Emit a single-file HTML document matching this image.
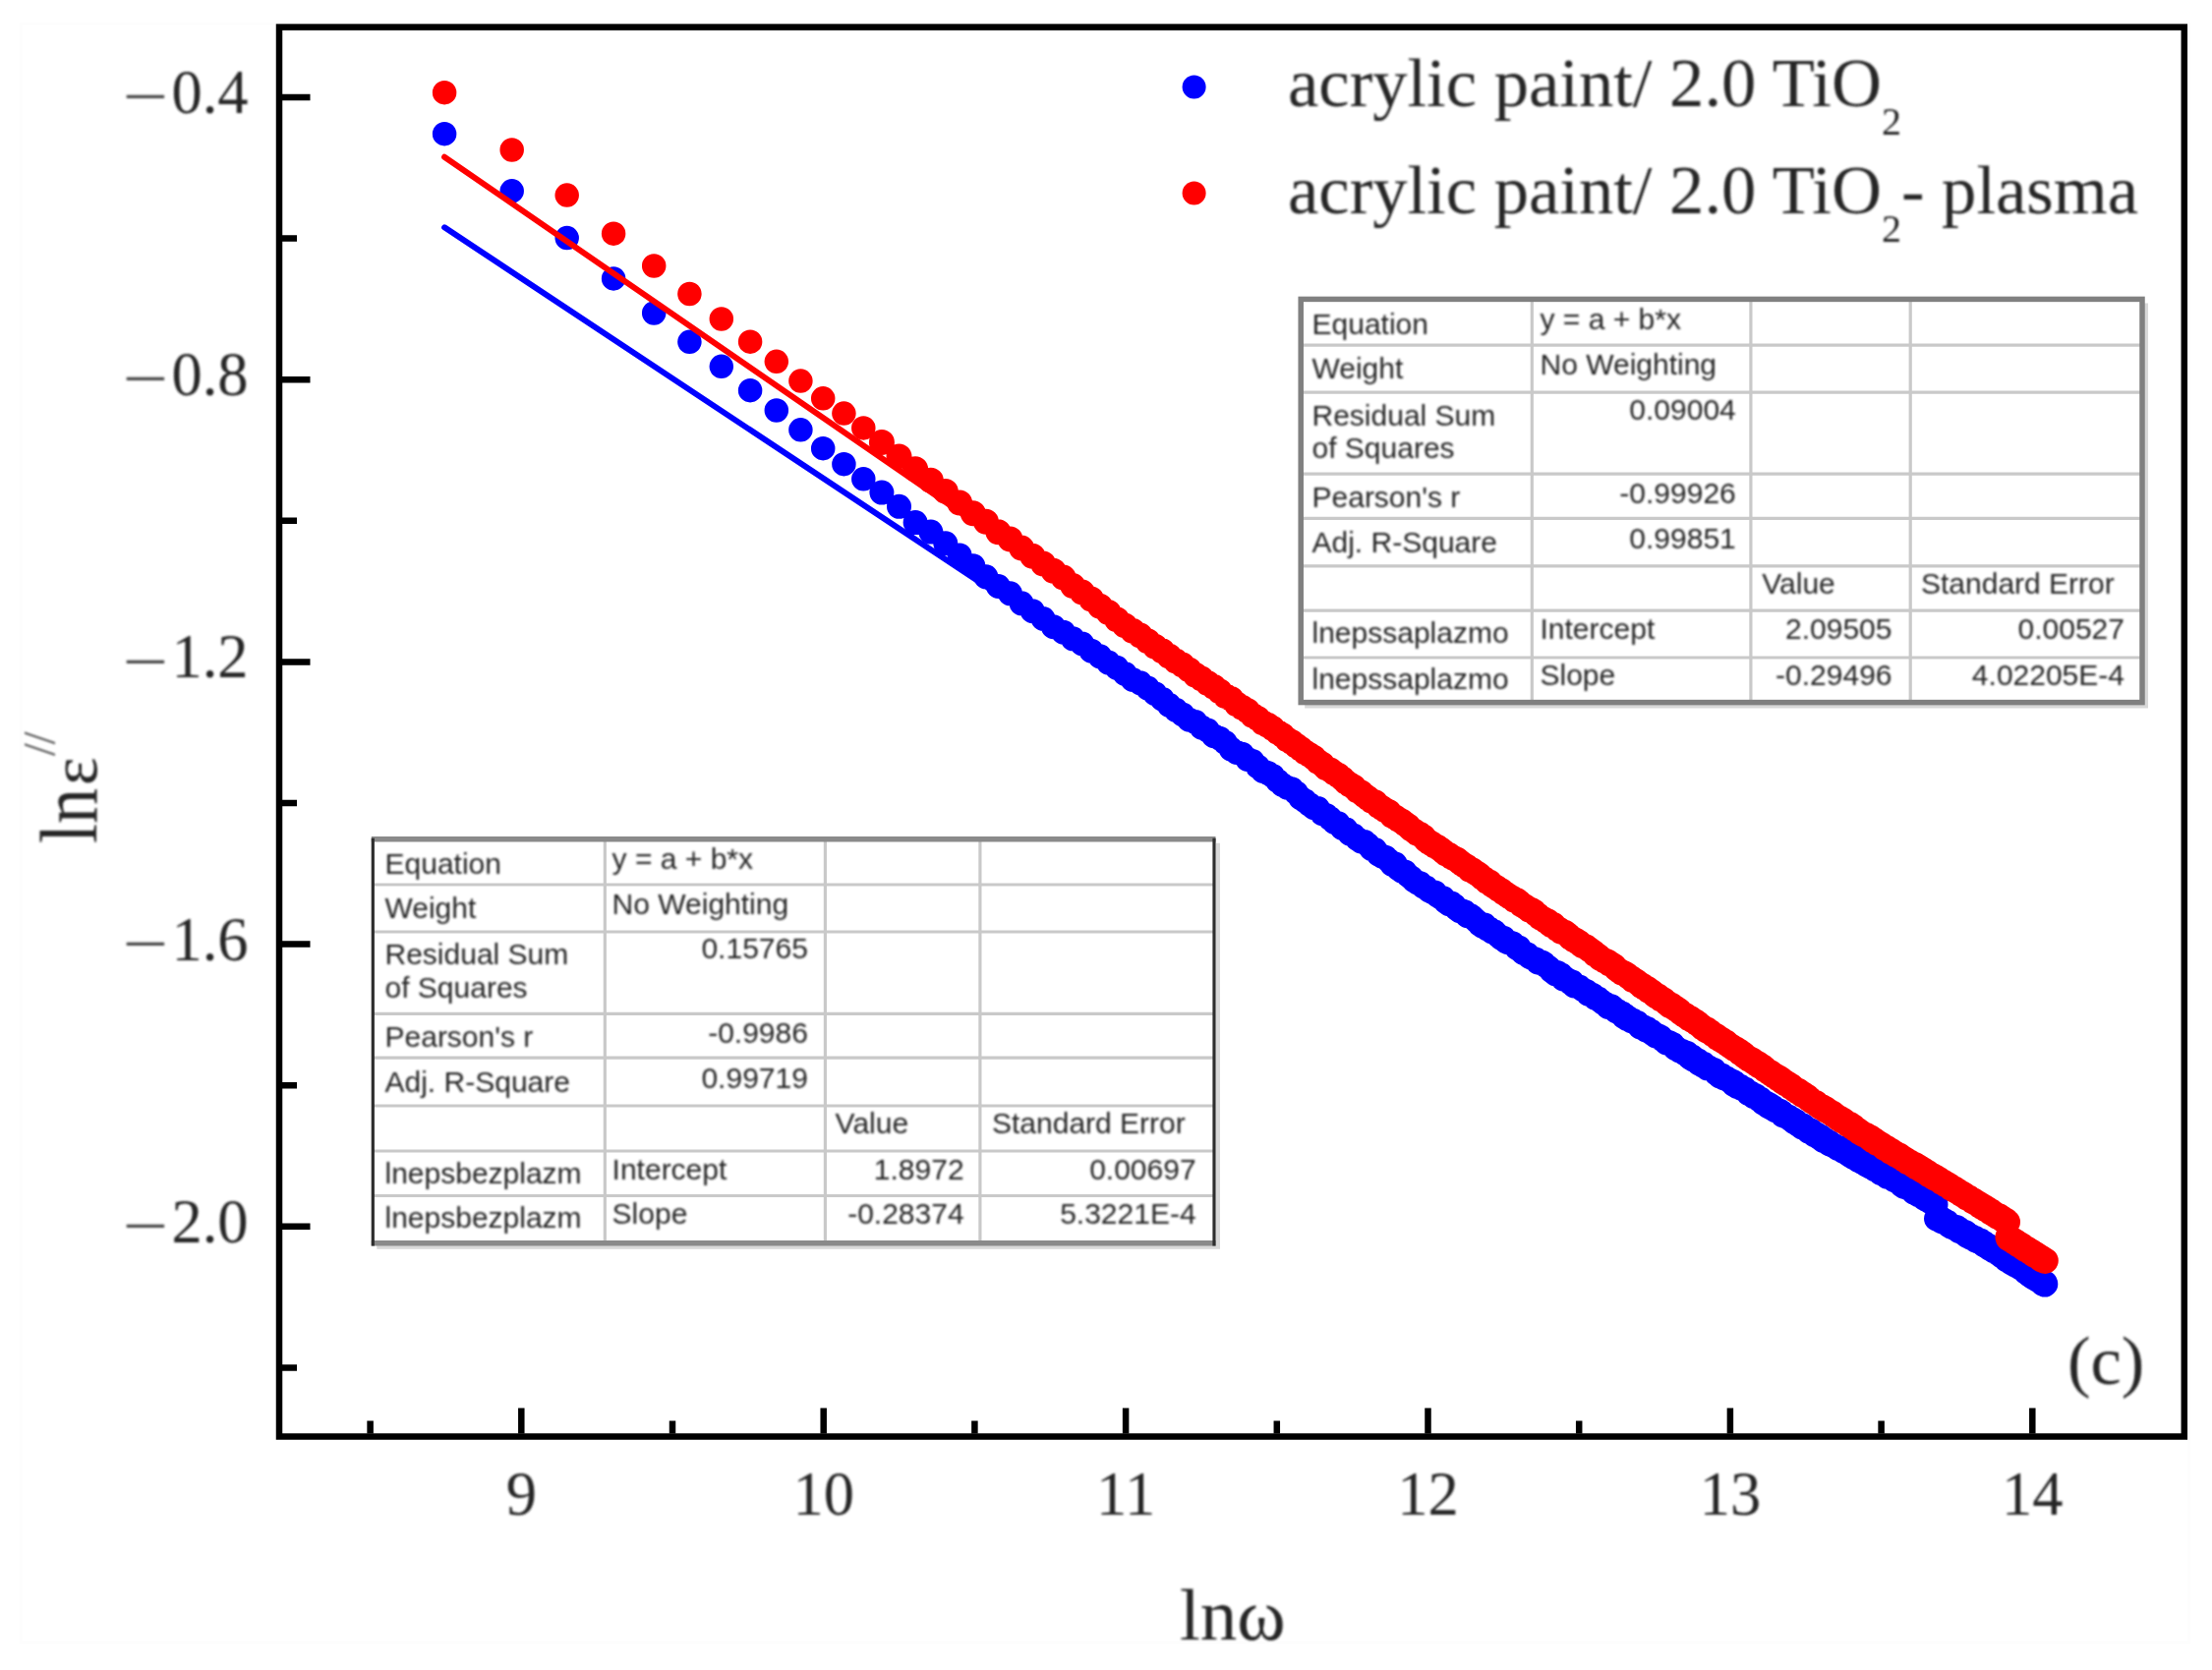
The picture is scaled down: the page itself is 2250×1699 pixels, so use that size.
<!DOCTYPE html>
<html lang="en"><head><meta charset="utf-8"><title>ln eps vs ln omega (c)</title>
<style>
html,body{margin:0;padding:0;background:#fff;}
body{width:2250px;height:1699px;overflow:hidden;}
svg{display:block;}
.se{font-family:"Liberation Serif","DejaVu Serif",serif;fill:#262626;}
.sa{font-family:"Liberation Sans","DejaVu Sans",sans-serif;font-size:30px;fill:#262626;}
.tk{font-size:62.5px;}
.lg{font-size:70.6px;}
</style></head><body>
<svg width="2250" height="1699" viewBox="0 0 2250 1699">
<defs><filter id="soft" x="-2%" y="-2%" width="104%" height="104%"><feGaussianBlur stdDeviation="1.1"/></filter><filter id="soft2" x="-2%" y="-2%" width="104%" height="104%"><feGaussianBlur stdDeviation="0.7"/></filter></defs>
<rect width="2250" height="1699" fill="#fff"/>
<rect x="21.5" y="24" width="2205" height="1647" fill="none" stroke="#fdfdfd" stroke-width="3"/>
<g filter="url(#soft2)" fill="none" stroke-linecap="round">
<path stroke="#0000ff" stroke-width="24.5" d="M452.1 136.2h0M520.7 194.3h0M576.7 242.1h0M624.1 283.4h0M665.2 318.5h0M701.4 347.8h0M733.8 372.8h0M763.1 397.2h0M789.8 417.5h0M814.4 437.3h0M837.2 456.2h0M858.4 472.2h0M878.3 487.3h0"/>
<path stroke="#0000ff" stroke-width="25" d="M896.9 501.1h0M914.5 515.3h0M931.1 531.6h0M946.8 541.1h0M961.8 552.8h0M976.1 564.9h0M989.8 575.7h0M1002.9 586.8h0M1015.4 596.5h0M1027.5 603.8h0M1039.1 613.8h0M1050.3 621.7h0M1061.1 629.5h0M1071.5 637.7h0M1081.6 643.2h0M1091.3 649.8h0M1100.8 655.0h0M1110.0 662.2h0M1118.9 667.8h0M1127.5 674.1h0M1136.0 679.3h0M1144.2 685.4h0M1152.1 691.5h0M1159.9 694.8h0M1167.5 700.1h0M1174.9 705.7h0M1182.2 711.2h0M1189.2 717.3h0M1196.1 722.3h0M1202.9 726.9h0M1209.5 732.2h0M1216.0 734.6h0M1222.3 740.1h0M1228.5 743.1h0M1234.6 748.7h0M1240.6 751.2h0M1246.4 755.6h0M1252.2 762.1h0M1257.8 765.4h0M1263.4 767.2h0M1268.8 772.3h0M1274.1 774.5h0M1279.4 779.9h0M1284.6 784.5h0M1289.6 786.4h0M1294.6 789.4h0M1299.6 794.4h0M1304.4 798.5h0M1309.2 801.2h0M1313.9 802.7h0M1318.5 806.7h0M1323.0 811.9h0M1327.5 814.8h0M1331.9 818.4h0M1336.3 821.7h0M1340.6 822.6h0M1344.8 827.6h0M1349.0 829.4h0M1353.2 832.8h0M1357.2 836.5h0M1361.2 837.8h0M1365.2 842.5h0M1369.1 843.8h0M1373.0 848.2h0M1376.8 850.0h0M1380.6 853.4h0M1384.3 855.9h0M1388.0 856.5h0M1391.6 859.6h0M1395.2 863.7h0M1398.8 864.6h0M1402.3 869.2h0M1405.8 871.1h0M1409.2 872.2h0M1412.6 875.3h0M1416.0 879.4h0M1419.3 879.1h0M1422.6 883.9h0M1425.8 886.1h0M1429.0 886.9h0M1432.2 890.5h0M1435.4 892.9h0M1438.5 895.9h0M1441.6 898.0h0M1444.6 898.8h0M1447.7 902.0h0M1450.7 903.1h0M1453.6 905.9h0M1456.6 907.5h0M1459.5 907.9h0M1462.4 911.2h0M1465.2 912.8h0M1468.1 913.8h0M1470.9 917.7h0M1473.7 919.6h0M1476.4 919.1h0M1479.2 921.2h0M1481.9 924.7h0M1484.6 926.6h0M1487.2 926.7h0M1489.9 927.8h0M1492.5 931.7h0M1495.1 931.2h0M1497.6 933.0h0M1500.2 935.5h0M1502.7 937.7h0M1505.2 940.3h0M1507.7 942.2h0M1510.2 941.0h0M1512.6 944.8h0M1515.1 945.0h0M1517.5 947.9h0M1519.9 947.7h0M1522.2 950.0h0M1524.6 952.4h0M1526.9 954.3h0M1529.3 954.2h0M1531.6 957.6h0M1533.8 958.7h0M1536.1 959.1h0M1538.4 959.7h0M1540.6 961.9h0M1542.8 964.4h0M1545.0 963.9h0M1547.2 967.5h0M1549.4 969.4h0M1551.5 970.1h0M1553.7 971.0h0M1555.8 973.5h0M1557.9 974.5h0M1560.0 975.3h0M1562.1 976.1h0M1564.2 978.8h0M1566.2 979.4h0M1568.3 979.1h0M1570.3 980.2h0M1572.3 982.5h0M1574.3 983.7h0M1576.3 985.3h0M1578.3 987.9h0M1580.3 989.5h0M1582.2 990.9h0M1584.1 989.4h0M1586.1 991.3h0M1588.0 991.8h0M1589.9 995.9h0M1591.8 995.3h0M1593.7 996.9h0M1595.5 997.4h0M1597.4 999.9h0M1599.2 999.0h0M1601.1 1003.0h0M1602.9 1002.8h0M1604.7 1003.4h0M1606.5 1004.1h0M1608.3 1005.7h0M1610.1 1006.9h0M1611.9 1007.7h0M1613.6 1008.4h0M1615.4 1011.2h0M1617.1 1011.3h0M1618.8 1011.7h0M1620.6 1012.8h0M1622.3 1015.2h0M1624.0 1015.2h0M1625.7 1016.0h0M1627.4 1017.9h0M1629.0 1018.8h0M1630.7 1020.5h0M1632.4 1021.0h0M1634.0 1021.9h0M1635.6 1024.5h0M1637.3 1023.8h0M1638.9 1023.8h0M1640.5 1025.1h0M1642.1 1026.5h0M1643.7 1028.6h0M1645.3 1028.5h0M1646.9 1029.9h0M1648.5 1031.3h0M1650.0 1031.1h0M1651.6 1034.3h0M1653.1 1033.3h0M1654.7 1036.4h0M1656.2 1035.6h0M1657.7 1036.9h0M1659.2 1038.6h0M1660.8 1038.1h0M1662.3 1039.7h0M1663.7 1040.2h0M1665.2 1040.2h0M1666.7 1043.2h0M1668.2 1044.8h0M1669.7 1044.8h0M1671.1 1044.6h0M1672.6 1046.9h0M1674.0 1047.9h0M1675.5 1046.6h0M1676.9 1048.2h0M1678.3 1049.8h0M1679.7 1049.3h0M1681.2 1051.8h0M1682.6 1051.7h0M1684.0 1054.0h0M1685.4 1054.1h0M1686.7 1053.8h0M1688.1 1054.4h0M1689.5 1055.3h0M1690.9 1057.7h0M1692.2 1057.9h0M1693.6 1059.5h0M1694.9 1060.9h0M1696.3 1060.7h0M1697.6 1060.5h0M1699.0 1061.3h0M1700.3 1062.5h0M1701.6 1062.6h0M1702.9 1065.4h0M1704.2 1066.6h0M1705.5 1066.5h0M1706.8 1067.8h0M1708.1 1068.8h0M1709.4 1069.0h0M1710.7 1069.2h0M1712.0 1070.4h0M1713.3 1071.7h0M1714.5 1070.9h0M1715.8 1071.2h0M1717.0 1073.6h0M1718.3 1075.5h0M1719.5 1076.4h0M1720.8 1074.7h0M1722.0 1077.9h0M1723.3 1076.7h0M1724.5 1077.8h0M1725.7 1079.4h0M1726.9 1078.7h0M1728.1 1081.8h0M1729.3 1082.2h0M1730.5 1081.9h0M1731.7 1084.0h0M1732.9 1082.3h0M1734.1 1084.8h0M1735.3 1085.8h0M1736.5 1086.8h0M1737.7 1085.8h0M1738.8 1087.1h0M1740.0 1087.2h0M1741.2 1087.9h0M1742.3 1088.1h0M1743.5 1088.4h0M1744.6 1089.9h0M1745.8 1092.1h0M1746.9 1092.0h0M1748.1 1093.6h0M1749.2 1094.8h0M1750.3 1094.1h0M1751.4 1094.0h0M1752.6 1096.3h0M1753.7 1096.8h0M1754.8 1097.2h0M1755.9 1096.8h0M1757.0 1098.1h0M1758.1 1098.4h0M1759.2 1098.7h0M1760.3 1100.5h0M1761.4 1099.9h0M1762.5 1100.3h0M1763.5 1103.4h0M1764.6 1101.6h0M1765.7 1102.9h0M1766.8 1105.3h0M1767.8 1105.0h0M1768.9 1105.2h0M1769.9 1105.0h0M1771.0 1107.2h0M1772.0 1107.3h0M1773.1 1107.0h0M1774.1 1107.9h0M1775.2 1108.1h0M1776.2 1110.2h0M1777.2 1110.3h0M1778.3 1112.3h0M1779.3 1111.4h0M1780.3 1111.8h0M1781.3 1112.9h0M1782.4 1113.3h0M1783.4 1115.5h0M1784.4 1114.0h0M1785.4 1114.4h0M1786.4 1115.1h0M1787.4 1117.0h0M1788.4 1116.9h0M1789.4 1118.9h0M1790.4 1117.8h0M1791.4 1118.6h0M1792.3 1120.7h0M1793.3 1122.1h0M1794.3 1121.7h0M1795.3 1121.9h0M1796.2 1121.9h0M1797.2 1123.3h0M1798.2 1125.3h0M1799.1 1123.6h0M1800.1 1126.4h0M1801.1 1124.8h0M1802.0 1127.3h0M1803.0 1127.4h0M1803.9 1126.6h0M1804.9 1129.2h0M1805.8 1129.7h0M1806.7 1129.2h0M1807.7 1129.2h0M1808.6 1129.4h0M1809.5 1130.5h0M1810.5 1130.3h0M1811.4 1132.2h0M1812.3 1131.4h0M1813.2 1134.6h0M1814.1 1134.8h0M1815.1 1134.4h0M1816.0 1135.7h0M1816.9 1134.9h0M1817.8 1135.8h0M1818.7 1136.7h0M1819.6 1136.3h0M1820.5 1137.7h0M1821.4 1139.0h0M1822.3 1139.4h0M1823.2 1138.5h0M1824.0 1138.9h0M1824.9 1141.6h0M1825.8 1140.2h0M1826.7 1140.4h0M1827.6 1142.3h0M1828.4 1142.7h0M1829.3 1144.3h0M1830.2 1143.9h0M1831.0 1144.5h0M1831.9 1144.7h0M1832.8 1147.0h0M1833.6 1144.7h0M1834.5 1146.6h0M1835.3 1147.5h0M1836.2 1146.8h0M1837.1 1148.1h0M1837.9 1148.8h0M1838.7 1148.8h0M1839.6 1151.2h0M1840.4 1150.3h0M1841.3 1151.2h0M1842.1 1150.1h0M1842.9 1150.7h0M1843.8 1153.2h0M1844.6 1153.1h0M1845.4 1154.7h0M1846.3 1154.2h0M1847.1 1153.6h0M1847.9 1153.9h0M1848.7 1155.7h0M1849.5 1156.7h0M1850.3 1157.5h0M1851.2 1156.8h0M1852.0 1156.3h0M1852.8 1159.2h0M1853.6 1157.7h0M1854.4 1160.4h0M1855.2 1160.4h0M1856.0 1160.7h0M1856.8 1159.8h0M1857.6 1161.3h0M1858.4 1161.7h0M1859.2 1161.3h0M1860.0 1163.3h0M1860.7 1161.9h0M1861.5 1164.1h0M1862.3 1163.4h0M1863.1 1164.6h0M1863.9 1165.2h0M1864.6 1164.7h0M1865.4 1165.4h0M1866.2 1166.0h0M1867.0 1166.3h0M1867.7 1166.4h0M1868.5 1168.0h0M1869.3 1168.3h0M1870.0 1167.4h0M1870.8 1167.8h0M1871.6 1168.6h0M1872.3 1168.0h0M1873.1 1169.2h0M1873.8 1168.8h0M1874.6 1171.2h0M1875.3 1170.0h0M1876.1 1170.3h0M1876.8 1170.4h0M1877.6 1172.6h0M1878.3 1173.0h0M1879.1 1171.6h0M1879.8 1174.1h0M1880.5 1172.2h0M1881.3 1172.9h0M1882.0 1175.6h0M1882.7 1175.7h0M1883.5 1174.7h0M1884.2 1176.5h0M1884.9 1177.4h0M1885.6 1175.6h0M1886.4 1177.2h0M1887.1 1176.5h0M1887.8 1178.9h0M1888.5 1178.5h0M1889.3 1178.0h0M1890.0 1180.5h0M1890.7 1180.3h0M1891.4 1179.3h0M1892.1 1179.0h0M1892.8 1179.2h0M1893.5 1182.2h0M1894.2 1181.4h0M1894.9 1181.0h0M1895.6 1182.2h0M1896.3 1182.0h0M1897.0 1183.9h0M1897.7 1184.7h0M1898.4 1184.9h0M1899.1 1185.5h0M1899.8 1184.4h0M1900.5 1184.9h0M1901.2 1185.1h0M1901.9 1186.8h0M1902.6 1187.0h0M1903.3 1187.4h0M1903.9 1185.8h0M1904.6 1185.8h0M1905.3 1186.3h0M1906.0 1189.2h0M1906.7 1189.7h0M1907.3 1187.4h0M1908.0 1189.3h0M1908.7 1188.7h0M1909.4 1190.4h0M1910.0 1190.4h0M1910.7 1190.6h0M1911.4 1191.2h0M1912.0 1191.1h0M1912.7 1193.3h0M1913.4 1191.6h0M1914.0 1191.5h0M1914.7 1193.9h0M1915.3 1193.5h0M1916.0 1193.0h0M1916.7 1194.4h0M1917.3 1195.4h0M1918.0 1195.9h0M1918.6 1195.2h0M1919.3 1197.1h0M1919.9 1194.8h0M1920.6 1195.5h0M1921.2 1196.1h0M1921.9 1196.0h0M1922.5 1197.1h0M1923.1 1198.2h0M1923.8 1198.0h0M1924.4 1198.6h0M1925.1 1197.6h0M1925.7 1198.5h0M1926.3 1200.5h0M1927.0 1198.9h0M1927.6 1199.8h0M1928.2 1200.0h0M1928.9 1200.3h0M1929.5 1201.9h0M1930.1 1200.8h0M1930.7 1201.2h0M1931.4 1202.1h0M1932.0 1202.3h0M1932.6 1202.6h0M1933.2 1204.1h0M1933.9 1203.5h0M1934.5 1205.8h0M1935.1 1205.4h0M1935.7 1205.4h0M1936.3 1207.1h0M1936.9 1206.4h0M1937.6 1205.9h0M1938.2 1206.3h0M1938.8 1207.9h0M1939.4 1206.1h0M1940.0 1207.3h0M1940.6 1208.6h0M1941.2 1208.0h0M1941.8 1208.6h0M1942.4 1209.1h0M1943.0 1209.9h0M1943.6 1208.4h0M1944.2 1209.8h0M1944.8 1210.0h0M1945.4 1210.2h0M1946.0 1209.9h0M1946.6 1213.1h0M1947.2 1211.7h0M1947.8 1211.6h0M1948.4 1213.4h0M1949.0 1213.3h0M1949.6 1214.7h0M1950.2 1214.7h0M1950.7 1214.5h0M1951.3 1215.6h0M1951.9 1215.5h0M1952.5 1213.9h0M1953.1 1215.3h0M1953.7 1215.8h0M1954.2 1214.7h0M1954.8 1216.3h0M1955.4 1215.3h0M1956.0 1216.7h0M1956.6 1216.6h0M1957.1 1219.1h0M1957.7 1217.9h0M1958.3 1217.7h0M1958.8 1220.2h0M1959.4 1217.9h0M1960.0 1220.5h0M1960.6 1219.9h0M1961.1 1221.2h0M1961.7 1220.5h0M1962.3 1220.5h0M1962.8 1222.5h0M1963.4 1220.1h0M1963.9 1222.1h0M1964.5 1222.1h0M1965.1 1222.2h0M1965.6 1223.2h0M1966.2 1223.8h0M1966.7 1223.0h0M1967.3 1223.6h0M1967.9 1224.8h0M1968.4 1223.8h0M1969.0 1225.4h0M1969.5 1239.8h0M1970.1 1239.4h0M1970.6 1240.4h0M1971.2 1240.3h0M1971.7 1238.8h0M1972.3 1240.2h0M1972.8 1239.0h0M1973.4 1239.8h0M1973.9 1242.2h0M1974.4 1239.6h0M1975.0 1240.1h0M1975.5 1243.0h0M1976.1 1240.8h0M1976.6 1242.5h0M1977.1 1242.7h0M1977.7 1241.5h0M1978.2 1244.0h0M1978.8 1243.5h0M1979.3 1242.5h0M1979.8 1243.5h0M1980.4 1244.5h0M1980.9 1243.3h0M1981.4 1244.1h0M1982.0 1245.0h0M1982.5 1246.8h0M1983.0 1245.5h0M1983.5 1246.3h0M1984.1 1247.4h0M1984.6 1248.1h0M1985.1 1247.0h0M1985.6 1248.5h0M1986.2 1247.8h0M1986.7 1247.5h0M1987.2 1248.4h0M1987.7 1249.3h0M1988.3 1248.6h0M1988.8 1249.4h0M1989.3 1248.6h0M1989.8 1249.6h0M1990.3 1248.5h0M1990.8 1248.9h0M1991.4 1249.9h0M1991.9 1251.7h0M1992.4 1252.3h0M1992.9 1250.3h0M1993.4 1250.9h0M1993.9 1251.6h0M1994.4 1252.7h0M1994.9 1253.3h0M1995.4 1252.3h0M1995.9 1252.9h0M1996.4 1253.1h0M1997.0 1253.3h0M1997.5 1253.2h0M1998.0 1255.2h0M1998.5 1255.3h0M1999.0 1253.4h0M1999.5 1253.9h0M2000.0 1254.2h0M2000.5 1257.1h0M2001.0 1257.3h0M2001.5 1256.9h0M2002.0 1256.7h0M2002.5 1256.4h0M2003.0 1258.3h0M2003.4 1257.2h0M2003.9 1258.9h0M2004.4 1259.1h0M2004.9 1257.6h0M2005.4 1258.3h0M2005.9 1258.3h0M2006.4 1259.4h0M2006.9 1259.3h0M2007.4 1260.4h0M2007.9 1260.3h0M2008.3 1259.3h0M2008.8 1259.3h0M2009.3 1261.9h0M2009.8 1262.0h0M2010.3 1260.2h0M2010.8 1261.1h0M2011.3 1260.9h0M2011.7 1262.8h0M2012.2 1262.5h0M2012.7 1263.2h0M2013.2 1261.8h0M2013.7 1263.4h0M2014.1 1262.8h0M2014.6 1262.1h0M2015.1 1264.4h0M2015.6 1264.0h0M2016.0 1263.6h0M2016.5 1263.4h0M2017.0 1265.1h0M2017.5 1265.6h0M2017.9 1266.6h0M2018.4 1264.6h0M2018.9 1267.2h0M2019.3 1267.5h0M2019.8 1266.3h0M2020.3 1266.8h0M2020.7 1266.4h0M2021.2 1267.9h0M2021.7 1266.7h0M2022.1 1269.2h0M2022.6 1269.1h0M2023.1 1268.0h0M2023.5 1270.1h0M2024.0 1269.7h0M2024.5 1268.8h0M2024.9 1269.2h0M2025.4 1270.7h0M2025.8 1271.4h0M2026.3 1271.1h0M2026.8 1270.3h0M2027.2 1271.7h0M2027.7 1272.7h0M2028.1 1271.2h0M2028.6 1272.0h0M2029.0 1271.2h0M2029.5 1271.5h0M2029.9 1271.8h0M2030.4 1273.6h0M2030.9 1272.8h0M2031.3 1274.6h0M2031.8 1274.8h0M2032.2 1274.9h0M2032.7 1273.6h0M2033.1 1274.0h0M2033.6 1276.2h0M2034.0 1276.2h0M2034.4 1276.5h0M2034.9 1276.8h0M2035.3 1277.0h0M2035.8 1277.3h0M2036.2 1278.2h0M2036.7 1277.4h0M2037.1 1277.0h0M2037.6 1278.0h0M2038.0 1277.4h0M2038.4 1278.5h0M2038.9 1280.0h0M2039.3 1278.5h0M2039.8 1278.5h0M2040.2 1280.6h0M2040.6 1281.6h0M2041.1 1280.4h0M2041.5 1280.6h0M2042.0 1280.9h0M2042.4 1279.9h0M2042.8 1281.2h0M2043.3 1281.0h0M2043.7 1283.5h0M2044.1 1282.4h0M2044.6 1281.9h0M2045.0 1284.3h0M2045.4 1284.6h0M2045.8 1282.9h0M2046.3 1282.7h0M2046.7 1285.5h0M2047.1 1284.1h0M2047.6 1285.9h0M2048.0 1284.3h0M2048.4 1284.9h0M2048.8 1286.4h0M2049.3 1286.8h0M2049.7 1285.4h0M2050.1 1286.4h0M2050.5 1286.0h0M2051.0 1287.4h0M2051.4 1287.8h0M2051.8 1286.2h0M2052.2 1287.4h0M2052.7 1288.2h0M2053.1 1288.4h0M2053.5 1288.1h0M2053.9 1288.4h0M2054.3 1288.1h0M2054.8 1289.9h0M2055.2 1288.9h0M2055.6 1289.6h0M2056.0 1289.4h0M2056.4 1289.8h0M2056.8 1290.0h0M2057.3 1290.1h0M2057.7 1290.1h0M2058.1 1291.4h0M2058.5 1292.0h0M2058.9 1291.7h0M2059.3 1291.7h0M2059.7 1293.1h0M2060.2 1293.4h0M2060.6 1294.5h0M2061.0 1293.0h0M2061.4 1292.5h0M2061.8 1294.6h0M2062.2 1295.5h0M2062.6 1295.7h0M2063.0 1295.3h0M2063.4 1296.0h0M2063.8 1294.2h0M2064.2 1297.2h0M2064.6 1296.7h0M2065.0 1297.6h0M2065.4 1296.2h0M2065.9 1296.1h0M2066.3 1298.2h0M2066.7 1298.8h0M2067.1 1297.9h0M2067.5 1297.8h0M2067.9 1297.1h0M2068.3 1300.0h0M2068.7 1300.0h0M2069.1 1300.0h0M2069.5 1300.2h0M2069.9 1300.4h0M2070.3 1299.2h0M2070.7 1299.9h0M2071.1 1301.3h0M2071.4 1301.6h0M2071.8 1301.6h0M2072.2 1302.2h0M2072.6 1300.7h0M2073.0 1302.3h0M2073.4 1301.8h0M2073.8 1301.3h0M2074.2 1302.6h0M2074.6 1303.5h0M2075.0 1301.9h0M2075.4 1302.1h0M2075.8 1304.0h0M2076.2 1303.7h0M2076.6 1302.7h0M2076.9 1304.4h0M2077.3 1305.4h0M2077.7 1306.2h0M2078.1 1303.8h0M2078.5 1304.5h0M2078.9 1306.0h0M2079.3 1305.8h0M2079.7 1306.1h0M2080.0 1307.1h0M2080.4 1305.2h0M2080.8 1306.4h0"/>
<line x1="452.1" y1="231.3" x2="2080.8" y2="1310.7" stroke="#0000ff" stroke-width="6"/>
<path stroke="#ff0000" stroke-width="24.5" d="M452.1 94.2h0M520.7 152.5h0M576.7 198.6h0M624.1 237.7h0M665.2 270.5h0M701.4 299.0h0M733.8 324.5h0M763.1 347.7h0M789.8 367.8h0M814.4 387.6h0M837.2 405.3h0M858.4 420.6h0M878.3 435.4h0"/>
<path stroke="#ff0000" stroke-width="26" d="M896.9 450.0h0M914.5 464.4h0M931.1 477.3h0M946.8 488.8h0M961.8 499.9h0M976.1 511.5h0M989.8 522.3h0M1002.9 530.8h0M1015.4 541.2h0M1027.5 548.5h0M1039.1 557.6h0M1050.3 565.8h0M1061.1 573.5h0M1071.5 580.8h0M1081.6 587.6h0M1091.3 596.1h0M1100.8 602.6h0M1110.0 609.5h0M1118.9 616.7h0M1127.5 623.0h0M1136.0 630.2h0M1144.2 636.4h0M1152.1 641.8h0M1159.9 646.6h0M1167.5 652.3h0M1174.9 657.7h0M1182.2 662.3h0M1189.2 667.5h0M1196.1 672.6h0M1202.9 676.6h0M1209.5 681.4h0M1216.0 686.7h0M1222.3 690.6h0M1228.5 695.0h0M1234.6 698.8h0M1240.6 703.2h0M1246.4 708.0h0M1252.2 710.9h0M1257.8 716.3h0M1263.4 719.7h0M1268.8 723.0h0M1274.1 727.7h0M1279.4 730.9h0M1284.6 735.2h0M1289.6 737.8h0M1294.6 741.1h0M1299.6 744.9h0M1304.4 747.9h0M1309.2 752.3h0M1313.9 755.0h0M1318.5 758.5h0M1323.0 761.8h0M1327.5 765.3h0M1331.9 767.9h0M1336.3 770.8h0M1340.6 774.7h0M1344.8 777.4h0M1349.0 781.4h0M1353.2 783.4h0M1357.2 786.4h0M1361.2 788.8h0M1365.2 791.9h0M1369.1 795.6h0M1373.0 798.2h0M1376.8 800.5h0M1380.6 804.2h0M1384.3 806.2h0M1388.0 809.4h0M1391.6 812.1h0M1395.2 814.8h0M1398.8 816.2h0M1402.3 819.7h0M1405.8 822.1h0M1409.2 824.3h0M1412.6 826.0h0M1416.0 829.7h0M1419.3 831.5h0M1422.6 833.7h0M1425.8 835.5h0M1429.0 838.0h0M1432.2 840.2h0M1435.4 843.4h0M1438.5 845.4h0M1441.6 847.7h0M1444.6 849.1h0M1447.7 851.2h0M1450.7 854.6h0M1453.6 856.7h0M1456.6 858.6h0M1459.5 860.5h0M1462.4 862.1h0M1465.2 863.9h0M1468.1 866.3h0M1470.9 868.6h0M1473.7 869.8h0M1476.4 871.8h0M1479.2 873.3h0M1481.9 874.5h0M1484.6 876.8h0M1487.2 878.8h0M1489.9 880.5h0M1492.5 882.1h0M1495.1 884.9h0M1497.6 885.3h0M1500.2 887.2h0M1502.7 888.8h0M1505.2 890.6h0M1507.7 892.9h0M1510.2 894.6h0M1512.6 896.7h0M1515.1 897.5h0M1517.5 900.0h0M1519.9 901.6h0M1522.2 903.0h0M1524.6 904.7h0M1526.9 906.0h0M1529.3 908.0h0M1531.6 909.6h0M1533.8 911.0h0M1536.1 912.6h0M1538.4 913.7h0M1540.6 915.7h0M1542.8 915.9h0M1545.0 917.8h0M1547.2 920.0h0M1549.4 921.3h0M1551.5 922.6h0M1553.7 924.0h0M1555.8 925.9h0M1557.9 926.1h0M1560.0 927.3h0M1562.1 929.6h0M1564.2 930.9h0M1566.2 933.0h0M1568.3 934.3h0M1570.3 935.3h0M1572.3 936.8h0M1574.3 937.3h0M1576.3 939.7h0M1578.3 941.2h0M1580.3 941.1h0M1582.2 943.1h0M1584.1 945.0h0M1586.1 945.7h0M1588.0 947.8h0M1589.9 948.3h0M1591.8 948.8h0M1593.7 950.3h0M1595.5 951.8h0M1597.4 953.8h0M1599.2 954.8h0M1601.1 956.4h0M1602.9 956.7h0M1604.7 958.3h0M1606.5 959.1h0M1608.3 961.0h0M1610.1 962.4h0M1611.9 962.7h0M1613.6 963.6h0M1615.4 965.0h0M1617.1 966.3h0M1618.8 967.4h0M1620.6 968.7h0M1622.3 970.7h0M1624.0 971.4h0M1625.7 972.8h0M1627.4 974.5h0M1629.0 975.6h0M1630.7 976.4h0M1632.4 977.5h0M1634.0 978.0h0M1635.6 978.7h0M1637.3 980.6h0M1638.9 980.9h0M1640.5 981.9h0M1642.1 983.1h0M1643.7 985.1h0M1645.3 986.4h0M1646.9 987.5h0M1648.5 988.6h0M1650.0 989.7h0M1651.6 990.0h0M1653.1 990.7h0M1654.7 991.8h0M1656.2 993.4h0M1657.7 994.2h0M1659.2 995.0h0M1660.8 997.1h0M1662.3 997.3h0M1663.7 997.9h0M1665.2 999.1h0M1666.7 1000.2h0M1668.2 1001.6h0M1669.7 1003.1h0M1671.1 1003.1h0M1672.6 1004.8h0M1674.0 1005.1h0M1675.5 1005.8h0M1676.9 1007.7h0M1678.3 1008.6h0M1679.7 1008.7h0M1681.2 1010.0h0M1682.6 1011.9h0M1684.0 1012.9h0M1685.4 1013.8h0M1686.7 1013.6h0M1688.1 1014.7h0M1689.5 1016.6h0M1690.9 1016.5h0M1692.2 1017.2h0M1693.6 1018.6h0M1694.9 1020.0h0M1696.3 1020.6h0M1697.6 1022.2h0M1699.0 1023.3h0M1700.3 1022.7h0M1701.6 1024.1h0M1702.9 1025.2h0M1704.2 1025.4h0M1705.5 1027.1h0M1706.8 1027.3h0M1708.1 1028.2h0M1709.4 1030.1h0M1710.7 1030.9h0M1712.0 1031.7h0M1713.3 1032.7h0M1714.5 1033.0h0M1715.8 1034.4h0M1717.0 1035.0h0M1718.3 1036.3h0M1719.5 1035.9h0M1720.8 1037.6h0M1722.0 1038.3h0M1723.3 1038.9h0M1724.5 1039.3h0M1725.7 1040.9h0M1726.9 1040.9h0M1728.1 1042.4h0M1729.3 1043.2h0M1730.5 1044.0h0M1731.7 1045.6h0M1732.9 1045.7h0M1734.1 1047.0h0M1735.3 1048.1h0M1736.5 1047.6h0M1737.7 1049.4h0M1738.8 1049.7h0M1740.0 1050.1h0M1741.2 1051.2h0M1742.3 1052.3h0M1743.5 1052.8h0M1744.6 1053.5h0M1745.8 1053.9h0M1746.9 1055.8h0M1748.1 1055.8h0M1749.2 1057.1h0M1750.3 1057.8h0M1751.4 1057.8h0M1752.6 1059.0h0M1753.7 1059.7h0M1754.8 1060.1h0M1755.9 1060.6h0M1757.0 1062.1h0M1758.1 1062.6h0M1759.2 1063.5h0M1760.3 1064.3h0M1761.4 1064.7h0M1762.5 1065.8h0M1763.5 1066.4h0M1764.6 1067.2h0M1765.7 1067.2h0M1766.8 1068.3h0M1767.8 1068.7h0M1768.9 1069.3h0M1769.9 1071.1h0M1771.0 1071.3h0M1772.0 1071.4h0M1773.1 1072.3h0M1774.1 1074.1h0M1775.2 1074.8h0M1776.2 1075.0h0M1777.2 1076.3h0M1778.3 1076.7h0M1779.3 1077.7h0M1780.3 1077.4h0M1781.3 1077.9h0M1782.4 1078.4h0M1783.4 1080.3h0M1784.4 1080.0h0M1785.4 1080.8h0M1786.4 1082.3h0M1787.4 1081.8h0M1788.4 1082.3h0M1789.4 1084.2h0M1790.4 1083.7h0M1791.4 1085.2h0M1792.3 1085.7h0M1793.3 1085.6h0M1794.3 1086.5h0M1795.3 1088.2h0M1796.2 1088.4h0M1797.2 1088.9h0M1798.2 1089.9h0M1799.1 1090.7h0M1800.1 1091.2h0M1801.1 1091.2h0M1802.0 1092.9h0M1803.0 1092.7h0M1803.9 1093.5h0M1804.9 1094.8h0M1805.8 1095.0h0M1806.7 1095.1h0M1807.7 1095.9h0M1808.6 1097.3h0M1809.5 1096.4h0M1810.5 1097.4h0M1811.4 1097.7h0M1812.3 1099.7h0M1813.2 1100.0h0M1814.1 1101.0h0M1815.1 1100.5h0M1816.0 1101.9h0M1816.9 1102.7h0M1817.8 1102.8h0M1818.7 1102.7h0M1819.6 1103.4h0M1820.5 1104.9h0M1821.4 1105.7h0M1822.3 1105.1h0M1823.2 1106.2h0M1824.0 1106.6h0M1824.9 1108.1h0M1825.8 1108.8h0M1826.7 1108.4h0M1827.6 1109.4h0M1828.4 1110.5h0M1829.3 1109.7h0M1830.2 1110.8h0M1831.0 1111.1h0M1831.9 1112.8h0M1832.8 1112.2h0M1833.6 1114.0h0M1834.5 1113.3h0M1835.3 1114.5h0M1836.2 1115.3h0M1837.1 1115.5h0M1837.9 1115.5h0M1838.7 1117.1h0M1839.6 1117.9h0M1840.4 1117.8h0M1841.3 1118.8h0M1842.1 1119.6h0M1842.9 1120.1h0M1843.8 1120.8h0M1844.6 1121.1h0M1845.4 1121.5h0M1846.3 1122.1h0M1847.1 1121.9h0M1847.9 1123.2h0M1848.7 1123.4h0M1849.5 1124.5h0M1850.3 1124.7h0M1851.2 1125.8h0M1852.0 1126.0h0M1852.8 1126.9h0M1853.6 1126.3h0M1854.4 1127.1h0M1855.2 1128.1h0M1856.0 1128.2h0M1856.8 1128.0h0M1857.6 1129.8h0M1858.4 1129.2h0M1859.2 1130.3h0M1860.0 1130.7h0M1860.7 1130.7h0M1861.5 1131.9h0M1862.3 1132.2h0M1863.1 1132.4h0M1863.9 1132.5h0M1864.6 1134.0h0M1865.4 1133.7h0M1866.2 1134.4h0M1867.0 1135.0h0M1867.7 1135.9h0M1868.5 1136.4h0M1869.3 1137.4h0M1870.0 1137.8h0M1870.8 1138.4h0M1871.6 1137.8h0M1872.3 1139.0h0M1873.1 1139.7h0M1873.8 1140.3h0M1874.6 1139.6h0M1875.3 1140.0h0M1876.1 1140.8h0M1876.8 1141.9h0M1877.6 1142.4h0M1878.3 1142.8h0M1879.1 1143.0h0M1879.8 1144.0h0M1880.5 1144.0h0M1881.3 1144.8h0M1882.0 1144.1h0M1882.7 1144.6h0M1883.5 1145.7h0M1884.2 1146.7h0M1884.9 1146.0h0M1885.6 1147.5h0M1886.4 1147.9h0M1887.1 1148.9h0M1887.8 1148.8h0M1888.5 1149.1h0M1889.3 1149.5h0M1890.0 1150.5h0M1890.7 1150.4h0M1891.4 1151.7h0M1892.1 1151.7h0M1892.8 1152.5h0M1893.5 1152.4h0M1894.2 1153.4h0M1894.9 1153.9h0M1895.6 1153.9h0M1896.3 1154.5h0M1897.0 1154.4h0M1897.7 1154.9h0M1898.4 1155.0h0M1899.1 1155.6h0M1899.8 1156.0h0M1900.5 1156.2h0M1901.2 1157.4h0M1901.9 1157.9h0M1902.6 1157.3h0M1903.3 1159.1h0M1903.9 1158.6h0M1904.6 1159.2h0M1905.3 1160.6h0M1906.0 1159.7h0M1906.7 1160.1h0M1907.3 1160.9h0M1908.0 1161.2h0M1908.7 1161.5h0M1909.4 1163.0h0M1910.0 1162.8h0M1910.7 1163.3h0M1911.4 1163.2h0M1912.0 1163.7h0M1912.7 1164.1h0M1913.4 1164.9h0M1914.0 1164.8h0M1914.7 1165.5h0M1915.3 1165.9h0M1916.0 1167.0h0M1916.7 1167.7h0M1917.3 1168.0h0M1918.0 1168.0h0M1918.6 1168.8h0M1919.3 1168.0h0M1919.9 1168.9h0M1920.6 1169.2h0M1921.2 1169.5h0M1921.9 1169.8h0M1922.5 1170.5h0M1923.1 1171.7h0M1923.8 1170.8h0M1924.4 1171.3h0M1925.1 1172.1h0M1925.7 1172.4h0M1926.3 1172.6h0M1927.0 1173.9h0M1927.6 1173.2h0M1928.2 1174.4h0M1928.9 1175.0h0M1929.5 1175.1h0M1930.1 1174.7h0M1930.7 1175.9h0M1931.4 1175.5h0M1932.0 1175.5h0M1932.6 1176.6h0M1933.2 1177.2h0M1933.9 1177.4h0M1934.5 1177.4h0M1935.1 1177.7h0M1935.7 1178.3h0M1936.3 1178.6h0M1936.9 1179.9h0M1937.6 1180.1h0M1938.2 1180.3h0M1938.8 1179.9h0M1939.4 1181.0h0M1940.0 1180.9h0M1940.6 1182.2h0M1941.2 1182.5h0M1941.8 1182.5h0M1942.4 1182.2h0M1943.0 1182.6h0M1943.6 1182.9h0M1944.2 1183.9h0M1944.8 1183.9h0M1945.4 1184.4h0M1946.0 1184.7h0M1946.6 1185.6h0M1947.2 1184.8h0M1947.8 1186.2h0M1948.4 1185.3h0M1949.0 1185.8h0M1949.6 1187.6h0M1950.2 1187.2h0M1950.7 1187.0h0M1951.3 1187.1h0M1951.9 1188.3h0M1952.5 1188.9h0M1953.1 1189.4h0M1953.7 1188.6h0M1954.2 1190.1h0M1954.8 1189.8h0M1955.4 1190.9h0M1956.0 1190.6h0M1956.6 1190.3h0M1957.1 1191.9h0M1957.7 1191.2h0M1958.3 1192.0h0M1958.8 1191.8h0M1959.4 1192.4h0M1960.0 1193.5h0M1960.6 1192.8h0M1961.1 1193.8h0M1961.7 1194.8h0M1962.3 1195.2h0M1962.8 1194.8h0M1963.4 1195.2h0M1963.9 1195.8h0M1964.5 1196.3h0M1965.1 1196.4h0M1965.6 1196.7h0M1966.2 1196.3h0M1966.7 1197.9h0M1967.3 1197.1h0M1967.9 1197.3h0M1968.4 1198.7h0M1969.0 1197.8h0M1969.5 1198.5h0M1970.1 1198.5h0M1970.6 1199.8h0M1971.2 1200.0h0M1971.7 1200.3h0M1972.3 1199.7h0M1972.8 1200.6h0M1973.4 1201.3h0M1973.9 1201.5h0M1974.4 1202.1h0M1975.0 1202.8h0M1975.5 1203.0h0M1976.1 1202.2h0M1976.6 1203.4h0M1977.1 1202.7h0M1977.7 1204.1h0M1978.2 1204.4h0M1978.8 1204.4h0M1979.3 1205.2h0M1979.8 1205.3h0M1980.4 1204.7h0M1980.9 1205.1h0M1981.4 1205.5h0M1982.0 1206.2h0M1982.5 1206.0h0M1983.0 1206.3h0M1983.5 1207.3h0M1984.1 1207.3h0M1984.6 1208.7h0M1985.1 1207.9h0M1985.6 1208.7h0M1986.2 1208.5h0M1986.7 1209.0h0M1987.2 1209.9h0M1987.7 1210.6h0M1988.3 1209.5h0M1988.8 1211.1h0M1989.3 1210.9h0M1989.8 1211.4h0M1990.3 1211.8h0M1990.8 1211.4h0M1991.4 1211.4h0M1991.9 1212.8h0M1992.4 1212.5h0M1992.9 1213.4h0M1993.4 1213.3h0M1993.9 1213.9h0M1994.4 1214.5h0M1994.9 1214.9h0M1995.4 1215.1h0M1995.9 1214.3h0M1996.4 1215.3h0M1997.0 1216.0h0M1997.5 1215.2h0M1998.0 1215.4h0M1998.5 1216.6h0M1999.0 1217.4h0M1999.5 1217.6h0M2000.0 1218.1h0M2000.5 1218.0h0M2001.0 1218.7h0M2001.5 1218.7h0M2002.0 1219.0h0M2002.5 1218.8h0M2003.0 1218.6h0M2003.4 1219.2h0M2003.9 1220.0h0M2004.4 1220.3h0M2004.9 1220.4h0M2005.4 1221.0h0M2005.9 1221.3h0M2006.4 1222.1h0M2006.9 1222.0h0M2007.4 1221.2h0M2007.9 1222.9h0M2008.3 1222.6h0M2008.8 1222.7h0M2009.3 1222.6h0M2009.8 1223.9h0M2010.3 1224.1h0M2010.8 1224.4h0M2011.3 1224.5h0M2011.7 1224.7h0M2012.2 1224.2h0M2012.7 1224.7h0M2013.2 1224.9h0M2013.7 1226.6h0M2014.1 1226.9h0M2014.6 1226.1h0M2015.1 1226.1h0M2015.6 1227.0h0M2016.0 1227.1h0M2016.5 1228.4h0M2017.0 1228.0h0M2017.5 1227.5h0M2017.9 1227.9h0M2018.4 1228.2h0M2018.9 1228.3h0M2019.3 1229.7h0M2019.8 1230.2h0M2020.3 1230.4h0M2020.7 1230.1h0M2021.2 1230.2h0M2021.7 1230.0h0M2022.1 1230.7h0M2022.6 1231.1h0M2023.1 1231.2h0M2023.5 1232.0h0M2024.0 1232.1h0M2024.5 1233.2h0M2024.9 1232.3h0M2025.4 1233.4h0M2025.8 1232.6h0M2026.3 1233.4h0M2026.8 1234.2h0M2027.2 1234.7h0M2027.7 1234.8h0M2028.1 1234.5h0M2028.6 1234.7h0M2029.0 1235.9h0M2029.5 1236.2h0M2029.9 1235.8h0M2030.4 1236.0h0M2030.9 1236.6h0M2031.3 1237.1h0M2031.8 1236.8h0M2032.2 1238.0h0M2032.7 1237.8h0M2033.1 1237.8h0M2033.6 1237.3h0M2034.0 1238.1h0M2034.4 1238.0h0M2034.9 1238.9h0M2035.3 1239.6h0M2035.8 1239.8h0M2036.2 1239.0h0M2036.7 1239.6h0M2037.1 1240.5h0M2037.6 1241.3h0M2038.0 1240.8h0M2038.4 1240.8h0M2038.9 1241.4h0M2039.3 1242.0h0M2039.8 1241.6h0M2040.2 1241.4h0M2040.6 1242.8h0M2041.1 1243.4h0M2041.5 1243.2h0M2042.0 1243.3h0M2042.4 1258.6h0M2042.8 1259.7h0M2043.3 1259.0h0M2043.7 1259.4h0M2044.1 1260.0h0M2044.6 1260.7h0M2045.0 1259.8h0M2045.4 1261.1h0M2045.8 1260.6h0M2046.3 1261.8h0M2046.7 1262.1h0M2047.1 1261.5h0M2047.6 1262.5h0M2048.0 1261.7h0M2048.4 1262.7h0M2048.8 1263.5h0M2049.3 1263.7h0M2049.7 1263.7h0M2050.1 1263.5h0M2050.5 1263.3h0M2051.0 1264.9h0M2051.4 1264.8h0M2051.8 1265.3h0M2052.2 1264.4h0M2052.7 1266.0h0M2053.1 1266.4h0M2053.5 1266.6h0M2053.9 1266.4h0M2054.3 1265.8h0M2054.8 1266.1h0M2055.2 1266.6h0M2055.6 1266.5h0M2056.0 1266.8h0M2056.4 1268.0h0M2056.8 1268.5h0M2057.3 1267.6h0M2057.7 1268.2h0M2058.1 1269.5h0M2058.5 1268.8h0M2058.9 1269.5h0M2059.3 1269.8h0M2059.7 1270.1h0M2060.2 1270.6h0M2060.6 1271.2h0M2061.0 1271.0h0M2061.4 1271.1h0M2061.8 1270.4h0M2062.2 1272.0h0M2062.6 1270.9h0M2063.0 1272.4h0M2063.4 1272.4h0M2063.8 1271.9h0M2064.2 1272.2h0M2064.6 1273.0h0M2065.0 1273.9h0M2065.4 1273.5h0M2065.9 1273.9h0M2066.3 1273.3h0M2066.7 1274.7h0M2067.1 1274.7h0M2067.5 1274.1h0M2067.9 1275.7h0M2068.3 1275.4h0M2068.7 1275.0h0M2069.1 1275.3h0M2069.5 1276.7h0M2069.9 1277.0h0M2070.3 1277.2h0M2070.7 1276.1h0M2071.1 1277.4h0M2071.4 1276.8h0M2071.8 1276.8h0M2072.2 1278.0h0M2072.6 1278.3h0M2073.0 1277.5h0M2073.4 1278.3h0M2073.8 1279.1h0M2074.2 1278.6h0M2074.6 1279.5h0M2075.0 1279.8h0M2075.4 1280.5h0M2075.8 1279.6h0M2076.2 1279.5h0M2076.6 1280.2h0M2076.9 1280.0h0M2077.3 1281.7h0M2077.7 1281.6h0M2078.1 1281.5h0M2078.5 1280.9h0M2078.9 1281.2h0M2079.3 1282.3h0M2079.7 1282.8h0M2080.0 1282.8h0M2080.4 1282.9h0M2080.8 1282.5h0"/>
<line x1="452.1" y1="159.7" x2="2080.8" y2="1281.8" stroke="#ff0000" stroke-width="6"/>
<path stroke="#0000ff" stroke-width="24" d="M1214.6 88.5h0"/>
<path stroke="#ff0000" stroke-width="24" d="M1214.6 196.4h0"/>
</g>
<g filter="url(#soft2)" stroke="#000" fill="none">
<rect x="284.0" y="27.6" width="1937.8" height="1433.9" stroke-width="6.5"/>
<path stroke-width="6.5" d="M287.0 99.0h28.5M287.0 242.6h15.0M287.0 386.2h28.5M287.0 529.8h15.0M287.0 673.4h28.5M287.0 817.0h15.0M287.0 960.6h28.5M287.0 1104.2h15.0M287.0 1247.8h28.5M287.0 1391.4h15.0M376.6 1458.5v-13.0M530.3 1458.5v-26.0M684.0 1458.5v-13.0M837.7 1458.5v-26.0M991.4 1458.5v-13.0M1145.1 1458.5v-26.0M1298.8 1458.5v-13.0M1452.5 1458.5v-26.0M1606.2 1458.5v-13.0M1759.9 1458.5v-26.0M1913.6 1458.5v-13.0M2067.3 1458.5v-26.0"/>
</g>
<g class="se" filter="url(#soft)">
<text class="tk" x="252.5" y="115.0" text-anchor="end">0.4</text>
<text class="tk" fill="#484848" transform="translate(124.5 120.2) scale(1.32 1.05)" x="0" y="0">−</text>
<text class="tk" x="252.5" y="402.2" text-anchor="end">0.8</text>
<text class="tk" fill="#484848" transform="translate(124.5 407.4) scale(1.32 1.05)" x="0" y="0">−</text>
<text class="tk" x="252.5" y="689.4" text-anchor="end">1.2</text>
<text class="tk" fill="#484848" transform="translate(124.5 694.6) scale(1.32 1.05)" x="0" y="0">−</text>
<text class="tk" x="252.5" y="976.6" text-anchor="end">1.6</text>
<text class="tk" fill="#484848" transform="translate(124.5 981.8) scale(1.32 1.05)" x="0" y="0">−</text>
<text class="tk" x="252.5" y="1263.8" text-anchor="end">2.0</text>
<text class="tk" fill="#484848" transform="translate(124.5 1269.0) scale(1.32 1.05)" x="0" y="0">−</text>
<text class="tk" x="530.3" y="1541" text-anchor="middle">9</text>
<text class="tk" x="837.7" y="1541" text-anchor="middle">10</text>
<text class="tk" x="1145.1" y="1541" text-anchor="middle">11</text>
<text class="tk" x="1452.5" y="1541" text-anchor="middle">12</text>
<text class="tk" x="1759.9" y="1541" text-anchor="middle">13</text>
<text class="tk" x="2067.3" y="1541" text-anchor="middle">14</text>
<text x="1200" y="1667.5" font-size="75">lnω</text>
<g transform="translate(98 858) rotate(-90)"><text transform="scale(0.87 1)" x="0" y="0" font-size="83">ln</text><text x="59" y="0" font-size="68">ε</text><text x="89" y="-42" font-size="46" fill="#555" letter-spacing="-1">//</text></g>
<text class="lg" x="1310" y="108">acrylic paint/ 2.0 TiO<tspan font-size="40" dy="29">2</tspan></text>
<text class="lg" x="1310" y="217">acrylic paint/ 2.0 TiO<tspan font-size="40" dy="29">2</tspan><tspan dy="-29">- plasma</tspan></text>
<text class="lg" x="2103" y="1408">(c)</text>
</g>
<g filter="url(#soft2)">
<rect x="1323.2" y="304.4" width="855.8" height="410.2" fill="#fff" stroke="none"/>
<path d="M1558.3 304.4V714.6M1780.9 304.4V714.6M1943.2 304.4V714.6M1323.2 351.2H2179.0M1323.2 399.2H2179.0M1323.2 482.2H2179.0M1323.2 527.4H2179.0M1323.2 575.9H2179.0M1323.2 621.2H2179.0M1323.2 669.0H2179.0" stroke="#c9c9c9" stroke-width="3.2" fill="none"/>
<path d="M1327.2 718.6H2183.0V308.4" stroke="#d8d8d8" stroke-width="4" fill="none"/>
<rect x="1323.2" y="304.4" width="855.8" height="410.2" fill="none" stroke="#808080" stroke-width="5.5"/>
</g>
<g class="sa" filter="url(#soft)">
<text x="1334.5" y="340.2">Equation</text>
<text x="1566.5" y="335.2">y = a + b*x</text>
<text x="1334.5" y="385.0">Weight</text>
<text x="1566.5" y="381.0">No Weighting</text>
<text x="1334.5" y="432.6">Residual Sum</text>
<text x="1765.8" y="426.6" text-anchor="end">0.09004</text>
<text x="1334.5" y="466.0">of Squares</text>
<text x="1334.5" y="516.0">Pearson's r</text>
<text x="1765.8" y="512.0" text-anchor="end">-0.99926</text>
<text x="1334.5" y="561.5">Adj. R-Square</text>
<text x="1765.8" y="557.5" text-anchor="end">0.99851</text>
<text x="1792.3" y="604.2">Value</text>
<text x="1954.0" y="604.2">Standard Error</text>
<text x="1334.5" y="653.5">lnepssaplazmo</text>
<text x="1566.5" y="649.5">Intercept</text>
<text x="1924.5" y="649.5" text-anchor="end">2.09505</text>
<text x="2161.0" y="649.5" text-anchor="end">0.00527</text>
<text x="1334.5" y="701.0">lnepssaplazmo</text>
<text x="1566.5" y="697.0">Slope</text>
<text x="1924.5" y="697.0" text-anchor="end">-0.29496</text>
<text x="2161.0" y="697.0" text-anchor="end">4.02205E-4</text>
</g>
<g filter="url(#soft2)">
<rect x="379.3" y="853.8" width="855.7" height="410.9" fill="#fff" stroke="none"/>
<path d="M615.3 853.8V1264.7M839.4 853.8V1264.7M996.9 853.8V1264.7M379.3 900.0H1235.0M379.3 948.0H1235.0M379.3 1031.4H1235.0M379.3 1076.1H1235.0M379.3 1125.0H1235.0M379.3 1171.0H1235.0M379.3 1216.5H1235.0" stroke="#c9c9c9" stroke-width="3.2" fill="none"/>
<path d="M383.3 1268.7H1239.0V857.8" stroke="#d8d8d8" stroke-width="4" fill="none"/>
<path d="M377.8 853.8H1236.5M377.8 1264.7H1236.5" stroke="#8a8a8a" stroke-width="5.5" fill="none"/>
<path d="M379.3 852.8V1267.4M1235.0 852.8V1267.4" stroke="#2e2e2e" stroke-width="3.2" fill="none"/>
</g>
<g class="sa" filter="url(#soft)">
<text x="391.5" y="889.0">Equation</text>
<text x="622.6" y="884.0">y = a + b*x</text>
<text x="391.5" y="933.7">Weight</text>
<text x="622.6" y="929.7">No Weighting</text>
<text x="391.5" y="981.3">Residual Sum</text>
<text x="821.9" y="975.3" text-anchor="end">0.15765</text>
<text x="391.5" y="1015.0">of Squares</text>
<text x="391.5" y="1065.0">Pearson's r</text>
<text x="821.9" y="1061.0" text-anchor="end">-0.9986</text>
<text x="391.5" y="1110.7">Adj. R-Square</text>
<text x="821.9" y="1106.7" text-anchor="end">0.99719</text>
<text x="849.6" y="1153.4">Value</text>
<text x="1009.0" y="1153.4">Standard Error</text>
<text x="391.5" y="1203.5">lnepsbezplazm</text>
<text x="622.6" y="1199.5">Intercept</text>
<text x="980.6" y="1199.5" text-anchor="end">1.8972</text>
<text x="1216.6" y="1199.5" text-anchor="end">0.00697</text>
<text x="391.5" y="1249.0">lnepsbezplazm</text>
<text x="622.6" y="1245.0">Slope</text>
<text x="980.6" y="1245.0" text-anchor="end">-0.28374</text>
<text x="1216.6" y="1245.0" text-anchor="end">5.3221E-4</text>
</g>
</svg></body></html>
